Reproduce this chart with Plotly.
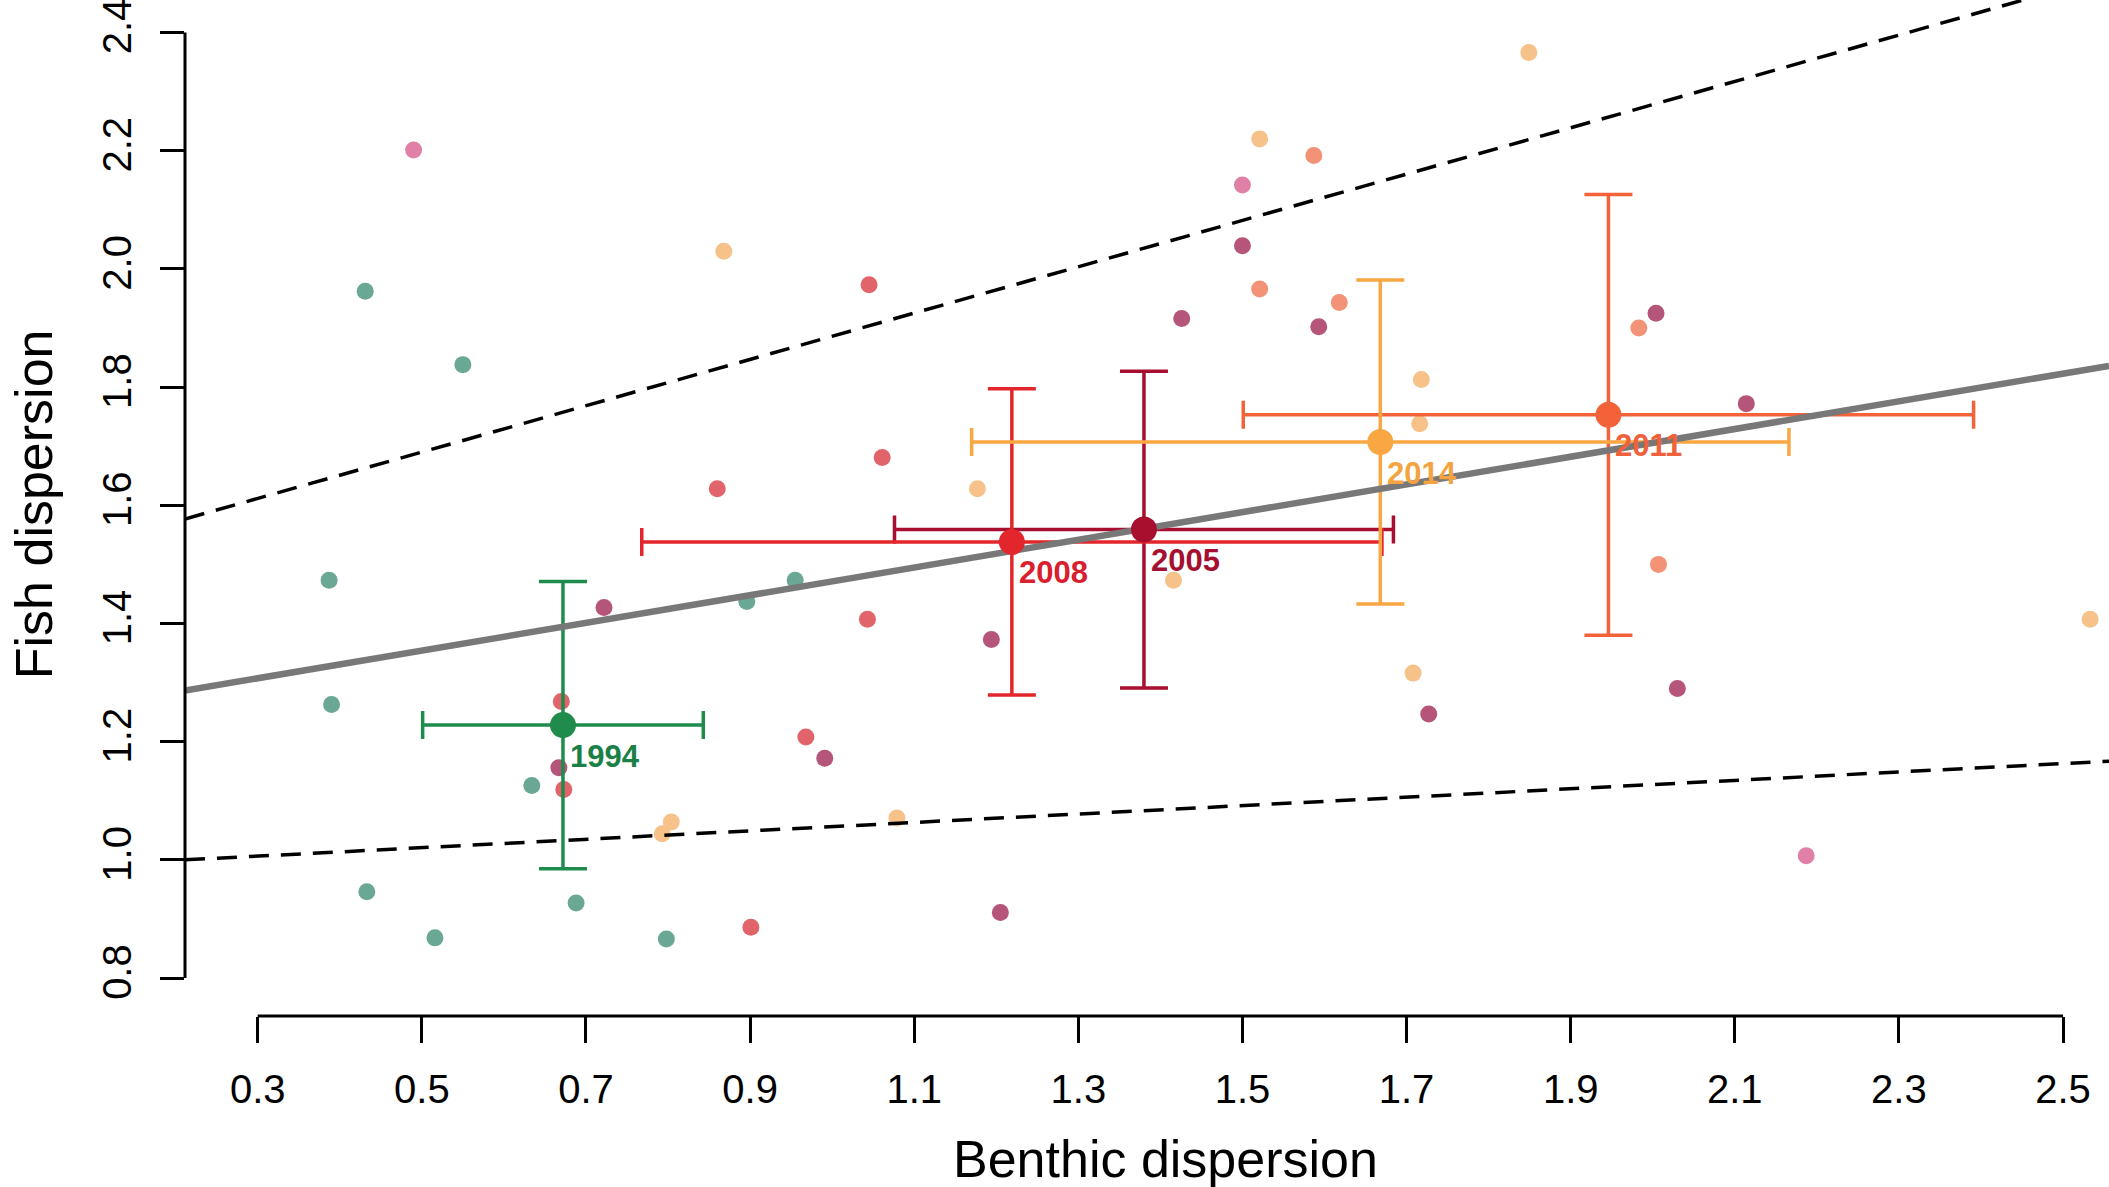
import plotly.graph_objects as go

# ---------------- data ----------------
years = ["1994", "2005", "2008", "2011", "2014"]

# site-level values (benthic dispersion, fish dispersion)
sites_1994_x = [0.431, 0.550, 0.387, 0.390, 0.634, 0.433, 0.516, 0.688, 0.798, 0.896, 0.955]
sites_1994_y = [1.962, 1.838, 1.473, 1.263, 1.126, 0.946, 0.868, 0.927, 0.866, 1.437, 1.473]

sites_2005_x = [0.722, 0.667, 1.500, 1.426, 1.593, 2.004, 2.114, 2.030, 1.727, 1.194, 0.991, 1.205]
sites_2005_y = [1.427, 1.156, 2.039, 1.916, 1.902, 1.925, 1.772, 1.290, 1.247, 1.373, 1.172, 0.911]

sites_2008_x = [0.670, 0.673, 1.045, 1.043, 0.968, 0.901, 1.061, 0.860]
sites_2008_y = [1.268, 1.119, 1.973, 1.407, 1.208, 0.886, 1.681, 1.628]

sites_2011_x = [1.587, 1.521, 1.618, 1.983, 2.007]
sites_2011_y = [2.192, 1.966, 1.943, 1.900, 1.500]

sites_2014_x = [1.521, 1.849, 0.868, 1.718, 1.716, 1.708, 1.416, 1.177, 2.533, 0.793, 0.804, 1.079]
sites_2014_y = [2.220, 2.366, 2.030, 1.813, 1.738, 1.316, 1.473, 1.628, 1.407, 1.044, 1.064, 1.071]

sites_other_x = [0.490, 1.500, 2.187]
sites_other_y = [2.201, 2.142, 1.007]

# yearly means with errors
mean_x = [0.672, 1.380, 1.219, 1.946, 1.668]
mean_y = [1.228, 1.559, 1.538, 1.753, 1.707]
err_x = [0.171, 0.304, 0.451, 0.445, 0.498]
err_y = [0.243, 0.268, 0.259, 0.373, 0.274]

# fitted line and bounds: intercept, slope
fit_coef = [1.237, 0.2343]
upper_coef = [1.494, 0.392]
lower_coef = [0.985, 0.0712]

x_ticks = [0.3, 0.5, 0.7, 0.9, 1.1, 1.3, 1.5, 1.7, 1.9, 2.1, 2.3, 2.5]
x_tick_labels = ["0.3", "0.5", "0.7", "0.9", "1.1", "1.3", "1.5", "1.7", "1.9", "2.1", "2.3", "2.5"]
y_ticks = [0.8, 1.0, 1.2, 1.4, 1.6, 1.8, 2.0, 2.2, 2.4]
y_tick_labels = ["0.8", "1.0", "1.2", "1.4", "1.6", "1.8", "2.0", "2.2", "2.4"]

x_title = "Benthic dispersion"
y_title = "Fish dispersion"

# ---------------- styles ----------------
FONT = "Liberation Sans, Arial, Helvetica, sans-serif"
XR = [0.2114, 2.556]
YR = [0.7358, 2.455]

site_colors = {
    "1994": "#6aa895",
    "2005": "#b5557a",
    "2008": "#e2646b",
    "2011": "#f29378",
    "2014": "#f6c28a",
    "other": "#e080a6",
}
mean_colors = {
    "1994": "#1f8c4b",
    "2005": "#a80f2e",
    "2008": "#e3262b",
    "2011": "#f4623a",
    "2014": "#f9a743",
}
label_colors = {
    "1994": "#1b8046",
    "2005": "#a51030",
    "2008": "#d8202f",
    "2011": "#f0603a",
    "2014": "#f5a340",
}

fig = go.Figure()

site_sets = [
    ("1994", sites_1994_x, sites_1994_y),
    ("2005", sites_2005_x, sites_2005_y),
    ("2008", sites_2008_x, sites_2008_y),
    ("2011", sites_2011_x, sites_2011_y),
    ("2014", sites_2014_x, sites_2014_y),
    ("other", sites_other_x, sites_other_y),
]
for key, xs, ys in site_sets:
    fig.add_trace(go.Scatter(
        x=xs, y=ys, mode="markers",
        marker=dict(size=17, color=site_colors[key], line=dict(width=0)),
        showlegend=False, hoverinfo="skip",
    ))

# error bars (drawn under the lines)
for i, yr in enumerate(years):
    c = mean_colors[yr]
    fig.add_trace(go.Scatter(
        x=[mean_x[i]], y=[mean_y[i]], mode="markers",
        marker=dict(size=2, color="rgba(0,0,0,0)"),
        error_x=dict(type="data", array=[err_x[i]], symmetric=True,
                     color=c, thickness=3.5, width=14),
        error_y=dict(type="data", array=[err_y[i]], symmetric=True,
                     color=c, thickness=3.5, width=24),
        showlegend=False, hoverinfo="skip",
    ))

# lines
def line_xy(coef):
    return XR, [coef[0] + coef[1] * XR[0], coef[0] + coef[1] * XR[1]]

for coef, col, w, dash in [
    (upper_coef, "black", 3.5, "20px,12px"),
    (lower_coef, "black", 3.5, "20px,12px"),
    (fit_coef, "#787878", 6.5, "solid"),
]:
    lx, ly = line_xy(coef)
    fig.add_trace(go.Scatter(x=lx, y=ly, mode="lines",
                             line=dict(color=col, width=w, dash=dash),
                             showlegend=False, hoverinfo="skip"))

# mean markers
for i, yr in enumerate(years):
    fig.add_trace(go.Scatter(
        x=[mean_x[i]], y=[mean_y[i]], mode="markers",
        marker=dict(size=26, color=mean_colors[yr], line=dict(width=0)),
        showlegend=False, hoverinfo="skip",
    ))
    fig.add_annotation(x=mean_x[i], y=mean_y[i], xref="x", yref="y",
                       text="<b>%s</b>" % yr, showarrow=False,
                       xanchor="left", yanchor="middle", xshift=5, yshift=-31,
                       font=dict(family=FONT, size=31, color=label_colors[yr]))

# R-style axis lines spanning the tick range only
fig.add_shape(type="line", xref="paper", yref="y", x0=0, x1=0,
              y0=y_ticks[0], y1=y_ticks[-1], line=dict(color="black", width=3))
fig.add_shape(type="line", xref="x", yref="paper", y0=0, y1=0,
              x0=x_ticks[0], x1=x_ticks[-1], line=dict(color="black", width=3))

# axis titles
fig.add_annotation(xref="paper", yref="paper", x=-0.0785, y=0.5037,
                   text=y_title, textangle=-90, showarrow=False,
                   xanchor="center", yanchor="middle",
                   font=dict(family=FONT, size=52, color="black"))
fig.add_annotation(xref="paper", yref="paper", x=0.5094, y=-0.1412,
                   text=x_title, showarrow=False,
                   xanchor="center", yanchor="middle",
                   font=dict(family=FONT, size=52, color="black"))

fig.update_xaxes(range=XR, tickvals=x_ticks, ticktext=x_tick_labels,
                 ticks="outside", ticklen=26, tickwidth=3, tickcolor="black",
                 ticklabelstandoff=12, ticklabeloverflow="allow",
                 showgrid=False, zeroline=False, showline=False,
                 tickfont=dict(family=FONT, size=40, color="black"))
fig.update_yaxes(range=YR, tickvals=y_ticks, ticktext=y_tick_labels,
                 ticks="outside", ticklen=24, tickwidth=3, tickcolor="black",
                 tickangle=-90, ticklabelstandoff=13, ticklabeloverflow="allow",
                 showgrid=False, zeroline=False, showline=False,
                 tickfont=dict(family=FONT, size=40, color="black"))

fig.update_layout(width=2109, height=1187,
                  margin=dict(l=185, r=0, t=0, b=171, pad=0),
                  paper_bgcolor="white", plot_bgcolor="white",
                  showlegend=False)

fig.write_html("out.html")
